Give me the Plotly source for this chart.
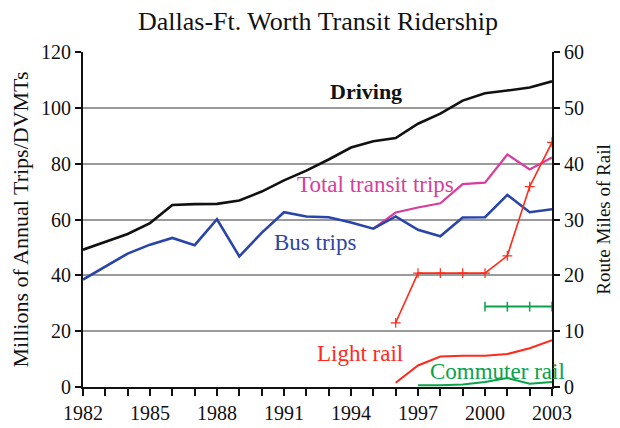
import plotly.graph_objects as go

years = list(range(1982, 2004))
driving = [49.2, 52.0, 54.8, 58.7, 65.2, 65.5, 65.6, 66.8, 70.0, 74.0, 77.5, 81.5,
           85.8, 88.0, 89.2, 94.3, 97.9, 102.6, 105.2, 106.2, 107.3, 109.5]
bus = [38.5, 43.2, 47.8, 51.0, 53.4, 50.8, 60.1, 46.8, 55.2, 62.6, 61.1, 60.8,
       58.9, 56.7, 61.1, 56.3, 54.0, 60.7, 60.8, 68.8, 62.6, 63.7]
total_years = list(range(1995, 2004))
total_transit = [56.7, 62.5, 64.3, 65.8, 72.7, 73.2, 83.3, 77.9, 82.2]
lr_years = list(range(1996, 2004))
light_rail_trips = [1.5, 7.7, 10.9, 11.2, 11.2, 11.8, 13.9, 16.8]
cr_years = list(range(1997, 2004))
commuter_trips = [0.6, 0.6, 0.9, 1.8, 3.2, 1.2, 1.8]
lr_miles = [11.5, 20.4, 20.4, 20.4, 20.4, 23.5, 35.9, 43.8]
crm_years = [2000, 2001, 2002, 2003]
cr_miles = [14.4, 14.4, 14.4, 14.4]
x_tick_labels = [1982, 1985, 1988, 1991, 1994, 1997, 2000, 2003]

FONT = "Liberation Serif"
BLACK = "#111111"
BLUE = "#2a45a8"
MAGENTA = "#d93c9c"
RED = "#ff2a1a"
GREEN = "#0aa24a"

fig = go.Figure()
fig.add_trace(go.Scatter(x=years, y=driving, mode="lines", line=dict(color=BLACK, width=2.6)))
fig.add_trace(go.Scatter(x=total_years, y=total_transit, mode="lines", line=dict(color=MAGENTA, width=2.2)))
fig.add_trace(go.Scatter(x=years, y=bus, mode="lines", line=dict(color=BLUE, width=2.6)))
fig.add_trace(go.Scatter(x=lr_years, y=light_rail_trips, mode="lines", line=dict(color=RED, width=2)))
fig.add_trace(go.Scatter(x=cr_years, y=commuter_trips, mode="lines", line=dict(color=GREEN, width=2)))
fig.add_trace(go.Scatter(x=lr_years, y=lr_miles, mode="lines+markers", yaxis="y2",
                         line=dict(color=RED, width=1.6),
                         marker=dict(symbol="cross-thin", size=7, line=dict(color=RED, width=1.2))))
fig.add_trace(go.Scatter(x=crm_years, y=cr_miles, mode="lines+markers", yaxis="y2",
                         line=dict(color=GREEN, width=2),
                         marker=dict(symbol="line-ns", size=7, line=dict(color=GREEN, width=1.5))))

labels = [
    ("<b>Driving</b>", 1994.67, 105.8, BLACK, 22),
    ("Total transit trips", 1995.1, 72.4, MAGENTA, 23),
    ("Bus trips", 1992.4, 51.7, BLUE, 23),
    ("Light rail", 1994.4, 11.9, RED, 23),
    ("Commuter rail", 2000.56, 5.4, GREEN, 23),
]
for txt, xx, yy, col, sz in labels:
    fig.add_annotation(x=xx, y=yy, text=txt, showarrow=False,
                       font=dict(family=FONT, size=sz, color=col))

AX = dict(ticks="outside", tickwidth=1.5, tickcolor=BLACK, showline=True, linecolor=BLACK,
          linewidth=2, zeroline=False, tickfont=dict(family=FONT, size=20, color=BLACK))

fig.update_layout(
    width=620, height=428,
    margin=dict(l=72, r=76, t=44, b=47),
    paper_bgcolor="white", plot_bgcolor="white",
    showlegend=False,
    font=dict(family=FONT, size=20, color=BLACK),
    title=dict(text="Dallas-Ft. Worth Transit Ridership", x=0.5, xanchor="center",
               y=0.971, yanchor="middle", font=dict(family=FONT, size=26, color=BLACK)),
    xaxis=dict(range=[1982, 2003], tickvals=x_tick_labels, ticklen=7, showgrid=False,
               minor=dict(dtick=1, ticks="outside", ticklen=7, tickwidth=1.5, tickcolor=BLACK),
               **AX),
    yaxis=dict(range=[0, 120], dtick=20, ticklen=6, showgrid=True, gridcolor="#9a9a9a",
               gridwidth=1.8,
               title=dict(text="Millions of Annual Trips/DVMTs", font=dict(family=FONT, size=22),
                          standoff=6),
               **AX),
    yaxis2=dict(range=[0, 60], dtick=10, overlaying="y", side="right", ticklen=6, showgrid=False,
                title=dict(text="Route Miles of Rail", font=dict(family=FONT, size=19), standoff=14),
                **AX),
)

fig.write_html("out.html")
